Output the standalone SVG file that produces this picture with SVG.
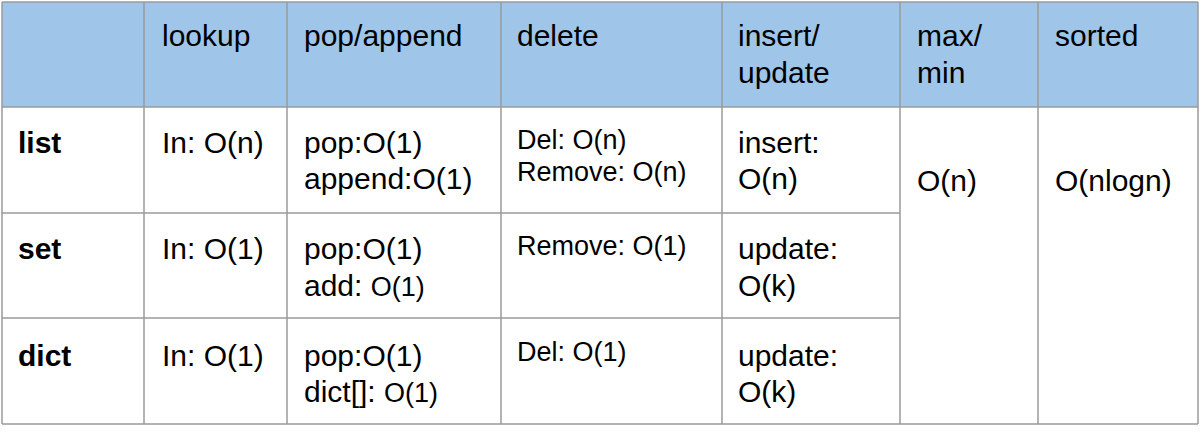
<svg xmlns="http://www.w3.org/2000/svg" width="1200" height="432" viewBox="0 0 1200 432">
<style>
text{font-family:"Liberation Sans",Arial,sans-serif;font-size:30px;fill:#000}
.s{font-size:27px}
.b{font-weight:bold}
line{stroke:#9a9a9a;stroke-width:1.5}
</style>
<rect x="0" y="0" width="1200" height="432" fill="#fff"/>
<rect x="2" y="2" width="1196" height="105" fill="#9fc5e8"/>
<g>
<line x1="2" y1="2" x2="1198" y2="2"/>
<line x1="2" y1="107" x2="1198" y2="107"/>
<line x1="2" y1="213" x2="900" y2="213"/>
<line x1="2" y1="318" x2="900" y2="318"/>
<line x1="2" y1="424" x2="1198" y2="424"/>
<line x1="2" y1="2" x2="2" y2="424"/>
<line x1="144" y1="2" x2="144" y2="424"/>
<line x1="287" y1="2" x2="287" y2="424"/>
<line x1="501" y1="2" x2="501" y2="424"/>
<line x1="722" y1="2" x2="722" y2="424"/>
<line x1="900" y1="2" x2="900" y2="424"/>
<line x1="1038" y1="2" x2="1038" y2="424"/>
<line x1="1198" y1="2" x2="1198" y2="424"/>
</g>
<text x="162" y="46">lookup</text>
<text x="304" y="46">pop/append</text>
<text x="517" y="46">delete</text>
<text x="738" y="46">insert/</text><text x="738" y="83">update</text>
<text x="917" y="46">max/</text><text x="917" y="83">min</text>
<text x="1055" y="46">sorted</text>
<text class="b" x="18" y="153">list</text>
<text x="162" y="153">In: O(n)</text>
<text x="304" y="153">pop:O(1)</text><text x="304" y="189">append:O(1)</text>
<text class="s" x="517" y="149">Del: O(n)</text><text class="s" x="517" y="181">Remove: O(n)</text>
<text x="738" y="153">insert:</text><text x="738" y="189">O(n)</text>
<text x="917" y="191">O(n)</text>
<text x="1055" y="191">O(nlogn)</text>
<text class="b" x="18" y="259">set</text>
<text x="162" y="259">In: O(1)</text>
<text x="304" y="259">pop:O(1)</text><text x="304" y="296">add: <tspan class="s">O(1)</tspan></text>
<text class="s" x="517" y="255">Remove: O(1)</text>
<text x="738" y="259">update:</text><text x="738" y="296">O(k)</text>
<text class="b" x="18" y="366">dict</text>
<text x="162" y="366">In: O(1)</text>
<text x="304" y="366">pop:O(1)</text><text x="304" y="402">dict[]: <tspan class="s">O(1)</tspan></text>
<text class="s" x="517" y="361">Del: O(1)</text>
<text x="738" y="366">update:</text><text x="738" y="402">O(k)</text>
</svg>
